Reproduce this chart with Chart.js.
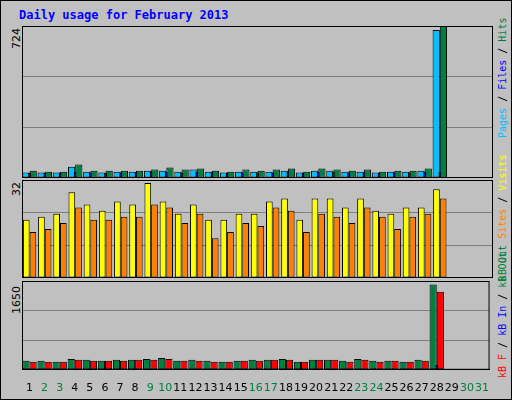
<!DOCTYPE html><html><head><script src="https://cdn.jsdelivr.net/npm/chart.js@4"></script>
<style>
body{margin:0;background:#fff}
#w{position:absolute;left:0;top:0;width:510px;height:398px;background:#c0c0c0;border:1px solid #000;overflow:hidden}
.c{position:absolute}
.t{position:absolute;font-family:"DejaVu Sans Mono";font-size:11px;white-space:nowrap;line-height:13px}
.r{transform:rotate(-90deg);transform-origin:0 0}
.l{transform:rotate(-90deg);transform-origin:0 0}
</style></head><body><div id="w">
<div class="t" style="left:18px;top:8px;color:#0000ff;font-weight:bold;font-size:12px">Daily usage for February 2013</div>
<div class="t l" style="left:9px;top:48px;font-family:'DejaVu Sans';font-size:11px">724</div>
<div class="t l" style="left:9px;top:195px;font-family:'DejaVu Sans';font-size:11px">32</div>
<div class="t l" style="left:9px;top:313px;font-family:'DejaVu Sans';font-size:11px">1650</div>
<div class="t r" style="left:495px;top:137px;font-size:10px"><span style="color:#00c0ff">Pages</span> / <span style="color:#0000ff">Files</span> / <span style="color:#008040">Hits</span></div>
<div class="t r" style="left:495px;top:280px;font-size:10px"><span style="color:#008040">kB Out</span> <span style="color:#ff8000">Sites</span> / <span style="color:#ffff00">Visits</span></div>
<div class="t r" style="left:495px;top:377px;font-size:10px"><span style="color:#ff0000">kB F</span> / <span style="color:#0000ff">kB In</span> / <span style="color:#008040">kB Out</span></div>
<canvas id="c1" class="c" style="left:21px;top:25px;width:471px;height:152px"></canvas>
<canvas id="c2" class="c" style="left:21px;top:179px;width:471px;height:98px"></canvas>
<canvas id="c3" class="c" style="left:21px;top:280px;width:471px;height:118px"></canvas>
</div>
<script>
const days=Array.from({length:31},(_,i)=>String(i+1));
const weekend=[2,3,9,10,16,17,23,24,30,31];
const hits=[35,30,30,64,35,35,35,35,40,50,40,45,35,30,40,35,40,45,30,45,40,35,40,30,35,35,45,724];
const files=[26,26,26,54,30,26,30,30,35,35,30,40,30,26,30,30,30,35,26,35,35,30,30,26,30,30,35,705];
const pages=[24,24,24,30,26,24,26,26,30,30,26,30,26,24,26,26,26,30,24,30,30,26,26,24,26,26,30,30];
const visits=[19,20,21,28,24,22,25,24,31,25,21,24,19,19,21,21,25,26,19,26,26,23,26,22,21,23,23,29];
const sites=[15,16,18,23,19,19,20,20,24,23,18,21,13,15,18,17,23,22,15,21,20,18,23,20,16,20,21,26];
const kbOut=[167,167,150,202,185,167,185,185,202,219,167,185,167,150,167,185,185,202,150,185,185,167,202,167,167,150,185,1587];
const kbIn=[8,8,8,10,8,8,8,8,10,10,8,8,8,8,8,8,8,10,8,8,8,8,10,8,8,8,8,87];
const kbF=[150,150,150,185,167,167,167,185,185,202,167,167,150,150,167,167,185,185,150,185,185,150,185,150,167,150,167,1448];
const grey='#808080';
function ds(label,data,color,bp,cp,extra){return Object.assign({label,data,backgroundColor:color,borderColor:'#000',borderWidth:1,barPercentage:bp,categoryPercentage:cp,borderSkipped:false},extra||{});}
function mk(id,sets,max,showX){
 return new Chart(document.getElementById(id),{type:'bar',data:{labels:days,datasets:sets},
 options:{animation:false,responsive:false,maintainAspectRatio:false,devicePixelRatio:1,
 layout:{padding:0},plugins:{legend:{display:false},tooltip:{enabled:false}},
 scales:{x:{display:showX,grid:{display:false},border:{display:true,color:'#000'},
   ticks:{autoSkip:false,maxRotation:0,padding:4,color:c=>weekend.includes(c.index+1)?'#008040':'#000',font:{family:'DejaVu Sans',size:11}}},
  y:{min:0,max:max,afterBuildTicks:a=>{a.ticks=[0,max/3,2*max/3,max].map(v=>({value:v}));},
   ticks:{display:false},grid:{color:grey,drawTicks:false},border:{display:false}}}},
 plugins:[{id:'frame',afterDraw(ch){const a=ch.chartArea,x=ch.ctx;x.save();x.strokeStyle='#000';x.lineWidth=1;x.strokeRect(a.left+0.5,a.top+0.5,a.right-a.left-1,a.bottom-a.top-1);x.restore();}}]});
}
function sz(id,w,h){const c=document.getElementById(id);c.width=w;c.height=h;}
sz('c1',471,152);sz('c2',471,98);sz('c3',471,118);
mk('c1',[ds('Pages',pages,'#0000ff',0.18,1,{grouped:false,order:0}),ds('Hits',hits,'#008040',1,0.95,{order:2}),ds('Files',files,'#00c0ff',1,0.95,{order:1})],724,false);
mk('c2',[ds('Visits',visits,'#ffff00',1,0.88),ds('Sites',sites,'#ff8000',1,0.88)],32,false);
mk('c3',[ds('kB In',kbIn,'#0000ff',0.18,1,{grouped:false,order:0}),ds('kB F',kbF,'#ff0000',1,0.95,{order:2}),ds('kB Out',kbOut,'#008040',1,0.95,{order:1})],1650,true);
</script></body></html>
